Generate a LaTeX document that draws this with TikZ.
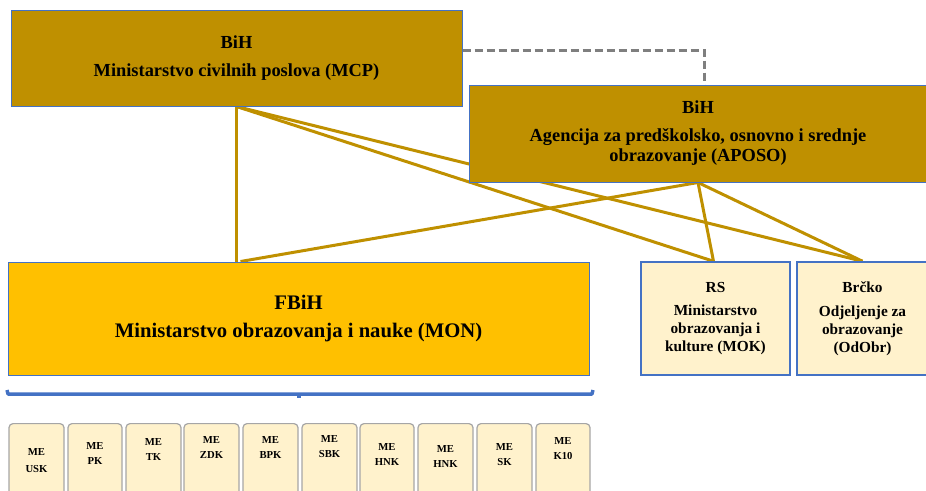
\documentclass[tikz,border=0pt]{standalone}
\usepackage{fontspec}
\setmainfont{Liberation Serif}
\usetikzlibrary{backgrounds}

\newlength{\du}
\setlength{\du}{0.75pt}
\definecolor{bihgold}{rgb}{0.749000, 0.565000, 0.000000}
\definecolor{fbihyellow}{rgb}{1.000000, 0.753000, 0.000000}
\definecolor{lightcream}{rgb}{1.000000, 0.949000, 0.800000}
\definecolor{edgeblue}{rgb}{0.267000, 0.447000, 0.769000}
\definecolor{dashgrey}{rgb}{0.498000, 0.498000, 0.498000}
\definecolor{megrey}{rgb}{0.650000, 0.650000, 0.650000}

\tikzset{
  orgbox/.style={draw=edgeblue, line width=1\du, align=center, inner sep=0pt},
  bihbox/.style={orgbox, fill=bihgold, font=\bfseries\fontsize{13.8}{15}\selectfont},
  fbihbox/.style={orgbox, fill=fbihyellow, font=\bfseries\fontsize{15.5}{18}\selectfont},
  entitybox/.style={orgbox, line width=1.5\du, fill=lightcream, minimum width=149\du,
    minimum height=113\du, font=\bfseries\fontsize{11.5}{13.2}\selectfont},
  mebox/.style={draw=megrey, fill=lightcream, line width=1.2\du, rounded corners=4\du,
    anchor=north, minimum width=55\du, inner xsep=0pt, text depth=70\du, align=center,
    font=\bfseries\fontsize{8}{11}\selectfont},
  linkline/.style={draw=bihgold, line width=3\du},
  dashlink/.style={draw=dashgrey, line width=3\du, dash pattern=on 8\du off 4\du},
  bracketline/.style={draw=edgeblue, line width=3.5\du, line join=round}
}

\begin{document}
\begin{tikzpicture}[x=\du, y=-\du]
\useasboundingbox (0,0) rectangle (926,490);
\clip (0,0) rectangle (926,490);

% state level
\node[bihbox, minimum width=451\du, minimum height=96\du] (mcp) at (236.5,58)
  {BiH\\[5.5pt]Ministarstvo civilnih poslova (MCP)};
\node[bihbox, minimum width=458\du, minimum height=97\du] (aposo) at (698,133.5)
  {BiH\\[6pt]Agencija za predškolsko, osnovno i srednje\\obrazovanje (APOSO)};

% entities
\node[fbihbox, minimum width=581\du, minimum height=113\du] (mon) at (298.5,318.5)
  {FBiH\\[3.5pt]Ministarstvo obrazovanja i nauke (MON)};
\node[entitybox] (mok) at (715.5,318.5)
  {RS\\[4pt]Ministarstvo\\obrazovanja i\\kulture (MOK)};
\node[entitybox, minimum width=131\du] (odobr) at (862.5,318.5)
  {Brčko\\[5pt]Odjeljenje za\\obrazovanje\\(OdObr)};

\begin{pgfonlayer}{background}
\draw[linkline] (mcp.south) -- (mon.north -| mcp.south);
\draw[linkline] (mcp.south) -- ([xshift=-2\du]mok.north);
\draw[linkline] (mcp.south) -- (odobr.north);
\draw[linkline] (aposo.south) -- ([xshift=4\du]mon.north -| mcp.south);
\draw[linkline] (aposo.south) -- ([xshift=-2\du]mok.north);
\draw[linkline] (aposo.south) -- (odobr.north);
\draw[dashlink] ([yshift=8\du]mcp.east) -| ([xshift=6\du]aposo.north);
\end{pgfonlayer}

% cantons
\draw[bracketline] (7,390) -- (8,394) -- (592,394) -- (593,390);
\draw[bracketline] (299,394) -- (299,398);

\node[mebox, inner ysep=25\du] (meusk) at (36.5,423) {ME\\[1.5pt]USK};
\node[mebox, inner ysep=19\du, minimum width=54\du] (mepk) at (95,423) {ME\\PK};
\node[mebox, inner ysep=15\du] (metk) at (153.5,423) {ME\\TK};
\node[mebox, inner ysep=13\du] (mezdk) at (211.5,423) {ME\\ZDK};
\node[mebox, inner ysep=13\du] (mebpk) at (270.5,423) {ME\\BPK};
\node[mebox, inner ysep=12\du] (mesbk) at (329.5,423) {ME\\SBK};
\node[mebox, inner ysep=20\du, minimum width=54\du] (mehnk) at (387,423) {ME\\HNK};
\node[mebox, inner ysep=22\du] (mehnkb) at (445.5,423) {ME\\HNK};
\node[mebox, inner ysep=20\du] (mesk) at (504.5,423) {ME\\SK};
\node[mebox, inner ysep=14\du, minimum width=54\du] (mekten) at (563,423) {ME\\K10};
\end{tikzpicture}
\end{document}
